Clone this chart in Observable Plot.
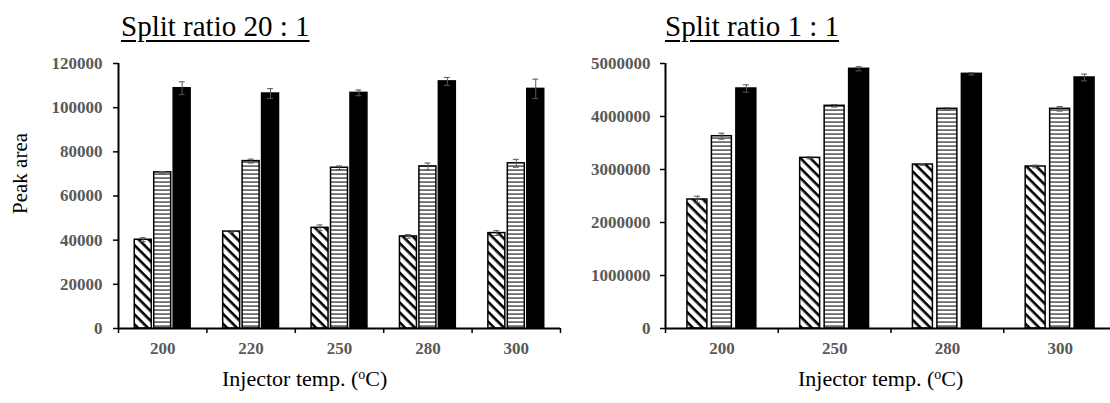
<!DOCTYPE html>
<html>
<head>
<meta charset="utf-8">
<script src="https://cdn.jsdelivr.net/npm/d3@7"></script>
<script src="https://cdn.jsdelivr.net/npm/@observablehq/plot@0.6"></script>
<style>
  html, body { margin: 0; padding: 0; background: #fff; }
  #wrap { position: relative; width: 1110px; height: 403px; overflow: hidden; font-family: "Liberation Serif", "Times New Roman", serif; }
  .title { position: absolute; font-size: 29px; line-height: 29px; text-decoration: underline; text-decoration-thickness: 1.5px; text-underline-offset: 4px; white-space: nowrap; color: #000; }
  .xlab { position: absolute; font-size: 22px; line-height: 22px; white-space: nowrap; color: #000; }
  .xlab sup { font-size: 14px; vertical-align: 7px; line-height: 0; }
  .ylab { position: absolute; left: 0; top: 0; font-size: 21px; line-height: 21px; white-space: nowrap; transform-origin: 0 0; color: #000; }
  .panel { position: absolute; top: 0; }
</style>
</head>
<body>
<svg width="0" height="0" style="position:absolute">
  <defs>
    <pattern id="diag" patternUnits="userSpaceOnUse" width="7" height="7" patternTransform="rotate(45)">
      <rect width="7" height="7" fill="#fff"></rect>
      <rect width="7" height="2.6" fill="#000"></rect>
    </pattern>
    <pattern id="hlines" patternUnits="userSpaceOnUse" width="4" height="4">
      <rect width="4" height="4" fill="#fff"></rect>
      <rect y="1.5" width="4" height="1.1" fill="#111"></rect>
    </pattern>
  </defs>
</svg>
<div id="wrap"></div>
<script>
// ---- Data: Split ratio 20 : 1 ----
const temps20 = ["200", "220", "250", "280", "300"];
const hatched20 = [40200, 43900, 45600, 41700, 43200];
const hatched20Err = [900, 400, 1300, 800, 1100];
const lined20 = [70700, 75800, 72800, 73400, 74800];
const lined20Err = [400, 900, 800, 1500, 1800];
const solid20 = [108800, 106400, 106700, 111900, 108500];
const solid20Err = [2900, 2200, 1300, 1800, 4400];
const yTicks20 = [0, 20000, 40000, 60000, 80000, 100000, 120000];

// ---- Data: Split ratio 1 : 1 ----
const temps1 = ["200", "250", "280", "300"];
const hatched1 = [2434000, 3220000, 3094000, 3057000];
const hatched1Err = [62000, 20000, 15000, 25000];
const lined1 = [3628000, 4202000, 4145000, 4145000];
const lined1Err = [57000, 25000, 20000, 43000];
const solid1 = [4528000, 4900000, 4805000, 4736000];
const solid1Err = [70000, 40000, 20000, 63000];
const yTicks1 = [0, 1000000, 2000000, 3000000, 4000000, 5000000];

const FONT = "Liberation Serif";

function chart({temps, series, yTicks, width, marginLeft, marginRight, step, barW, cap, tickPadding}) {
  const n = temps.length;
  const marks = [];
  series.forEach((s, k) => {
    const rows = temps.map((t, i) => ({i, c: i + 0.5 + (k - 1) * step, v: s.values[i], e: s.errs[i]}));
    marks.push(Plot.rectY(rows, {
      x1: d => d.c - barW / 2, x2: d => d.c + barW / 2, y1: 0, y2: "v",
      fill: s.fill, stroke: "#000", strokeWidth: 1.5
    }));
    marks.push(Plot.ruleX(rows, {x: "c", y1: d => d.v - d.e, y2: d => d.v + d.e, stroke: "#595959", strokeWidth: 1}));
    marks.push(Plot.ruleY(rows, {y: d => d.v + d.e, x1: d => d.c - cap, x2: d => d.c + cap, stroke: "#595959", strokeWidth: 1}));
    marks.push(Plot.ruleY(rows, {y: d => d.v - d.e, x1: d => d.c - cap, x2: d => d.c + cap, stroke: "#595959", strokeWidth: 1}));
  });
  return Plot.plot({
    width, height: 403,
    marginLeft, marginRight, marginTop: 63, marginBottom: 75,
    x: {domain: [0, n]},
    y: {domain: [0, yTicks[yTicks.length - 1]]},
    style: {background: "transparent", fontFamily: FONT, overflow: "visible"},
    marks: [
      ...marks,
      Plot.ruleX([0], {stroke: "#000", strokeWidth: 2}),
      Plot.ruleY([0], {stroke: "#000", strokeWidth: 2}),
      Plot.axisY({
        ticks: yTicks, tickSize: 5, tickPadding, tickFormat: d => String(d),
        stroke: "#000", strokeWidth: 1.5, fill: "#595959",
        fontSize: 17, fontWeight: "bold", fontFamily: FONT, label: null
      }),
      Plot.axisX({
        ticks: d3.range(n + 1), tickSize: 5, tickFormat: () => "",
        stroke: "#000", strokeWidth: 1.5, label: null
      }),
      Plot.axisX({
        ticks: temps.map((t, i) => i + 0.5), tickSize: 0, tickPadding: 13,
        tickFormat: d => temps[Math.floor(d)],
        fill: "#595959", fontSize: 17, fontWeight: "bold", fontFamily: FONT, label: null
      })
    ]
  });
}

const wrap = document.getElementById("wrap");

const left = chart({
  temps: temps20,
  series: [
    {values: hatched20, errs: hatched20Err, fill: "url(#diag)"},
    {values: lined20, errs: lined20Err, fill: "url(#hlines)"},
    {values: solid20, errs: solid20Err, fill: "#000"}
  ],
  yTicks: yTicks20, width: 565, marginLeft: 118, marginRight: 5,
  step: 0.22, barW: 0.192, cap: 0.034, tickPadding: 11
});
left.classList.add("panel");
left.style.left = "0px";
wrap.appendChild(left);

const right = chart({
  temps: temps1,
  series: [
    {values: hatched1, errs: hatched1Err, fill: "url(#diag)"},
    {values: lined1, errs: lined1Err, fill: "url(#hlines)"},
    {values: solid1, errs: solid1Err, fill: "#000"}
  ],
  yTicks: yTicks1, width: 561, marginLeft: 110, marginRight: 0,
  step: 0.217, barW: 0.177, cap: 0.027, tickPadding: 10
});
right.classList.add("panel");
right.style.left = "555px";
wrap.appendChild(right);

function addDiv(cls, html, css) {
  const d = document.createElement("div");
  d.className = cls;
  d.innerHTML = html;
  Object.assign(d.style, css);
  wrap.appendChild(d);
  return d;
}
addDiv("title", "Split ratio 20 : 1", {left: "121px", top: "12px"});
addDiv("title", "Split ratio 1 : 1", {left: "665px", top: "12px"});
addDiv("xlab", "Injector temp. (<sup>o</sup>C)", {left: "222px", top: "368px"});
addDiv("xlab", "Injector temp. (<sup>o</sup>C)", {left: "798px", top: "368px"});
addDiv("ylab", "Peak area", {transform: "translate(9.5px, 214px) rotate(-90deg)"});
</script>
</body>
</html>
